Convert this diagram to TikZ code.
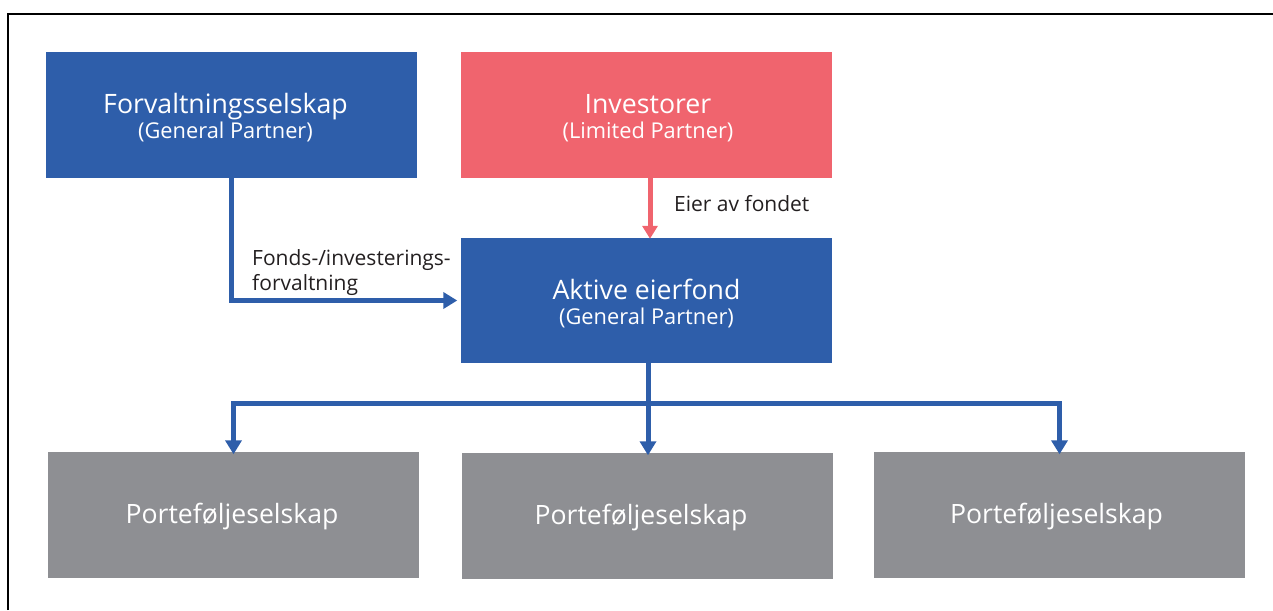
\documentclass[tikz,border=0pt]{standalone}
\usepackage{fontspec}
\setmainfont{Open Sans}
\usetikzlibrary{arrows.meta,calc}
\definecolor{fundblue}{HTML}{2E5EAA}
\definecolor{lpred}{HTML}{F0646E}
\definecolor{pcgrey}{HTML}{8E8F93}
\definecolor{labeltext}{HTML}{231F20}
\newcommand{\boxtitle}[2]{{\fontsize{26.7}{25}\selectfont #1}\\{\fontsize{21.8}{25}\selectfont #2}}
\tikzset{
  box/.style={minimum width=371pt, minimum height=126pt, inner sep=0pt},
  bluebox/.style={box, fill=fundblue},
  redbox/.style={box, fill=lpred},
  greybox/.style={box, fill=pcgrey},
  boxtext/.style={text=white, align=center, inner sep=0pt, font=\fontsize{21.8}{25}\selectfont},
  pctext/.style={boxtext, font=\fontsize{26.6}{30}\selectfont},
  link/.style={line width=5pt, fundblue},
  bluearrow/.style={link, -{Triangle[length=14pt,width=16pt]}},
  redarrow/.style={line width=5pt, lpred, -{Triangle[length=13pt,width=15pt]}},
  lbl/.style={text=labeltext, font=\fontsize{21}{25}\selectfont, align=left, inner sep=0pt}
}
\begin{document}
\begin{tikzpicture}[x=1pt,y=-1pt]
  \useasboundingbox (0,0) rectangle (1273,610);
  % frame edges
  \draw[line width=2pt] (8,610) -- (8,14) -- (1273,14);

  % top row
  \node[bluebox] (gp) at (231.5,115) {};
  \node[boxtext] (gp-t) at (225.5,118) {\boxtitle{Forvaltningsselskap}{(General Partner)}};
  \node[redbox] (lp) at (646,115) {};
  \node[boxtext] (lp-t) at (648,118) {\boxtitle{Investorer}{(Limited Partner)}};

  % fund
  \node[bluebox, minimum height=125pt] (fund) at (646,300.5) {};
  \node[boxtext] (fund-t) at (646.5,303.5) {\boxtitle{Aktive eierfond}{(General Partner)}};

  % portfolio companies
  \node[greybox] (pc1) at (233.5,514.5) {};
  \node[greybox] (pc2) at (647.5,515.5) {};
  \node[greybox] (pc3) at (1059.5,514.5) {};
  \node[pctext] (pc1-t) at (232,516.5) {Porteføljeselskap};
  \node[pctext] (pc2-t) at (641,517.5) {Porteføljeselskap};
  \node[pctext] (pc3-t) at (1056.5,516.5) {Porteføljeselskap};

  % management link
  \draw[bluearrow] ([yshift=2pt]gp.south) |- ([xshift=-3pt]fund.west);
  \node[lbl, anchor=west] (mgmt) at (252,273) {Fonds-/investerings-\\forvaltning};

  % ownership link
  \draw[redarrow] ([xshift=4pt,yshift=3pt]lp.south) -- ([xshift=4pt,yshift=-1pt]fund.north);
  \node[lbl, anchor=west] (own) at (674,204) {Eier av fondet};

  % fund to portfolio companies
  \coordinate (busL) at (pc1.north |- 0,403);
  \coordinate (busR) at (pc3.north |- 0,403);
  \draw[link] ([xshift=-2.5pt]busL) -- ([xshift=2.5pt]busR);
  \draw[bluearrow] ([xshift=2pt,yshift=4pt]fund.south) -- ([xshift=0.5pt,yshift=-3pt]pc2.north);
  \draw[bluearrow] (busL) -- ([yshift=-3pt]pc1.north);
  \draw[bluearrow] (busR) -- ([yshift=-3pt]pc3.north);
\end{tikzpicture}
\end{document}
